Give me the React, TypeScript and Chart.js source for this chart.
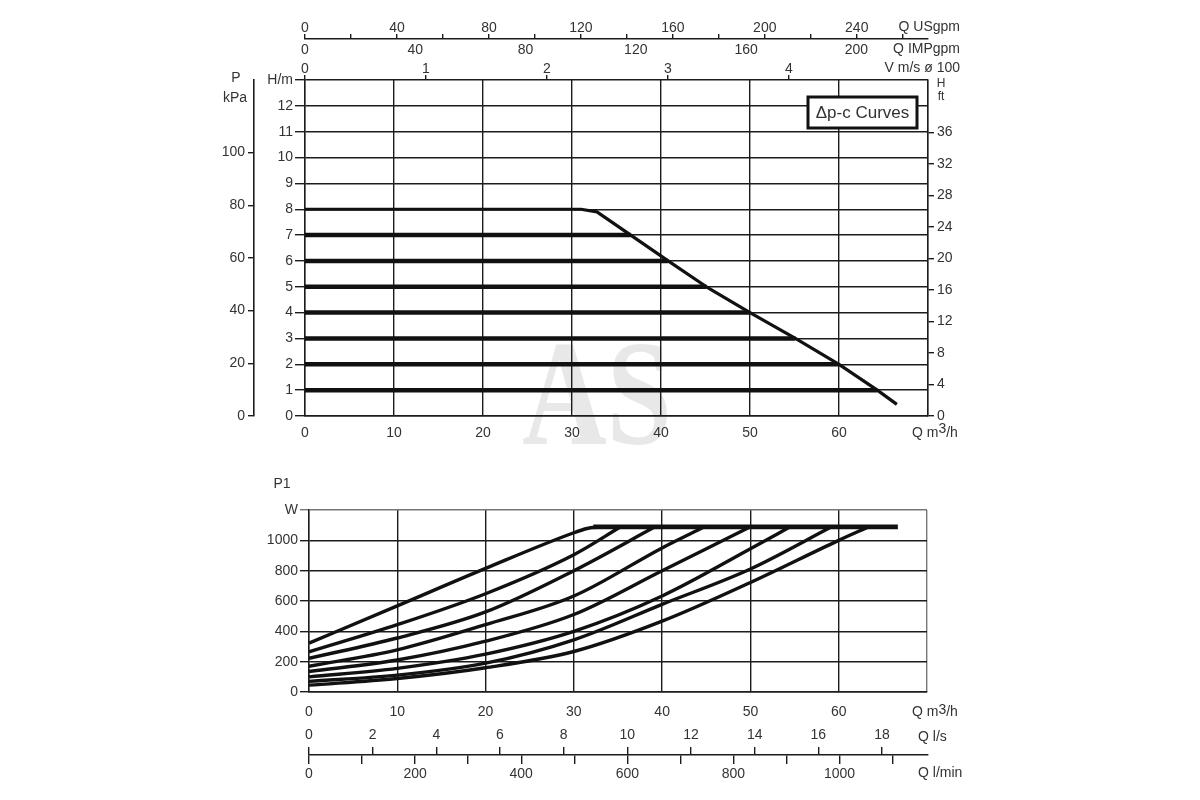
import React, { useEffect, useRef } from 'react';
import { Chart, registerables } from 'chart.js';

Chart.register(...registerables);

const FONT = '"Liberation Sans", Arial, Helvetica, sans-serif';
const INK = '#111111';
const GRID = '#1c1c1c';
const FRAME = '#777777';
const TEXT = '#333333';
const TICK_FONT = { family: FONT, size: 14 };

// Δp-c head curves (top chart): Q in m³/h, H in m
const headLevels = [1, 2, 3, 4, 5, 6, 7];
const headLineEnds = [64.3, 60.0, 55.1, 50.0, 45.1, 40.8, 36.6];
const limitQ = [0, 31, 32.8, 36.6, 40.8, 45.1, 50.0, 55.1, 60.0, 64.3, 66.5];
const limitH = [8, 8, 7.9, 7, 6, 5, 4, 3, 2, 1, 0.45];

// input power P1 (bottom chart), one curve per head setting, 1 m up to 8 m
const powerQ = [
  [0, 10, 20, 30, 40, 50, 60, 63.4],
  [0, 10, 20, 30, 40, 50, 59.2],
  [0, 10, 20, 30, 40, 50, 54.5],
  [0, 10, 20, 30, 40, 50],
  [0, 10, 20, 30, 40, 44.8],
  [0, 10, 20, 30, 39.2],
  [0, 10, 20, 30, 35.3],
  [0, 10, 20, 30, 31.5, 33],
];
const powerW = [
  [45, 89, 160, 267, 467, 722, 1000, 1089],
  [70, 111, 190, 344, 578, 811, 1089],
  [100, 156, 250, 400, 633, 944, 1089],
  [135, 211, 335, 511, 800, 1089],
  [170, 278, 444, 633, 950, 1089],
  [222, 356, 528, 800, 1089],
  [265, 444, 648, 905, 1089],
  [322, 568, 815, 1050, 1078, 1089],
];
const maxPowerQ = [32.2, 66.7];
const maxPowerW = [1089, 1089];

// axis ranges
const qMax = 70;
const hMax = 13;
const kpaMax = hMax * 9.81;
const ftMax = hMax * 3.281;
const usgpmMax = 271;
const impgpmMax = 226;
const velocityMax = 5.15;
const lsMax = qMax / 3.6;
const lminMax = qMax / 0.06;
const powerMax = 1200;

const toPoints = (xs: number[], ys: number[]) => xs.map((x, i) => ({ x, y: ys[i] }));

const line = (data: { x: number; y: number }[], width: number, smooth = false) => ({
  data,
  showLine: true,
  borderColor: INK,
  borderWidth: width,
  pointRadius: 0,
  borderCapStyle: 'butt',
  borderJoinStyle: 'round',
  cubicInterpolationMode: smooth ? 'monotone' : 'default',
});

const ticks = (extra: any) => ({ color: TEXT, font: TICK_FONT, maxTicksLimit: 100, includeBounds: false, ...extra });

const drawFlowUnit = (ctx: CanvasRenderingContext2D, x: number, y: number, lift: number) => {
  ctx.font = `14px ${FONT}`;
  ctx.textAlign = 'left';
  ctx.fillText('Q m', x, y);
  let w = ctx.measureText('Q m').width;
  ctx.fillText('3', x + w, y - lift);
  w += ctx.measureText('3').width;
  ctx.fillText('/h', x + w, y);
};

const headText = {
  id: 'headText',
  beforeDraw(chart: any) {
    const ctx = chart.ctx;
    ctx.save();
    ctx.fillStyle = '#e8e8e8';
    ctx.font = `bold 150px "Liberation Serif", "DejaVu Serif", serif`;
    ctx.textAlign = 'center';
    ctx.textBaseline = 'alphabetic';
    ctx.translate(397, 444);
    ctx.scale(0.78, 1);
    ctx.fillText('AS', 0, 0);
    ctx.restore();
  },
  afterDraw(chart: any) {
    const ctx = chart.ctx;
    ctx.save();
    ctx.fillStyle = TEXT;
    ctx.textBaseline = 'middle';
    ctx.font = `14px ${FONT}`;
    ctx.textAlign = 'right';
    ctx.fillText('Q USgpm', 760, 27);
    ctx.fillText('Q IMPgpm', 760, 49);
    ctx.fillText('V m/s ø 100', 760, 68);
    ctx.textAlign = 'center';
    ctx.fillText('P', 36, 78);
    ctx.fillText('kPa', 35, 98);
    ctx.font = `12px ${FONT}`;
    ctx.fillText('H', 741, 84);
    ctx.fillText('ft', 741, 97);
    drawFlowUnit(ctx, 712, 433, 4);

    ctx.fillStyle = '#ffffff';
    ctx.fillRect(608, 97, 109, 31);
    ctx.strokeStyle = INK;
    ctx.lineWidth = 3;
    ctx.strokeRect(608, 97, 109, 31);
    ctx.fillStyle = TEXT;
    ctx.font = `17px ${FONT}`;
    ctx.textAlign = 'center';
    ctx.fillText('Δp-c Curves', 662.5, 113);
    ctx.restore();
  },
};

const powerText = {
  id: 'powerText',
  afterDraw(chart: any) {
    const ctx = chart.ctx;
    ctx.save();
    ctx.fillStyle = TEXT;
    ctx.textBaseline = 'middle';
    ctx.font = `14px ${FONT}`;
    ctx.textAlign = 'center';
    ctx.fillText('P1', 82, 14);
    drawFlowUnit(ctx, 712, 242, 2);
    ctx.restore();
  },
};

const flowText = {
  id: 'flowText',
  afterDraw(chart: any) {
    const ctx = chart.ctx;
    ctx.save();
    ctx.fillStyle = TEXT;
    ctx.textBaseline = 'middle';
    ctx.font = `14px ${FONT}`;
    ctx.textAlign = 'left';
    ctx.fillText('Q l/s', 718, 37);
    ctx.fillText('Q l/min', 718, 73);
    ctx.restore();
  },
};

const App: React.FC = () => {
  const headRef = useRef<HTMLCanvasElement>(null);
  const powerRef = useRef<HTMLCanvasElement>(null);
  const flowRef = useRef<HTMLCanvasElement>(null);

  useEffect(() => {
    const charts: Chart[] = [];
    const common = {
      animation: false,
      responsive: false,
      events: [],
      plugins: { legend: { display: false }, tooltip: { enabled: false } },
    };

    if (headRef.current) {
      const datasets: any[] = headLevels.map((h, i) =>
        line([{ x: 0, y: h }, { x: headLineEnds[i], y: h }], 4.5)
      );
      datasets.push(line(toPoints(limitQ, limitH), 3.2));

      charts.push(
        new Chart(headRef.current, {
          type: 'scatter',
          data: { datasets },
          options: {
            ...common,
            layout: { padding: 0 },
            scales: {
              x: {
                type: 'linear', position: 'bottom', min: 0, max: qMax,
                ticks: ticks({ stepSize: 10, padding: 9, callback: (v: number) => (v >= qMax ? '' : v) }),
                grid: { color: GRID, lineWidth: 1.4, drawTicks: false },
                border: { color: GRID, width: 1.4 },
                afterFit: (s: any) => { s.height = 29; },
              },
              xV: {
                type: 'linear', position: 'top', weight: 0, min: 0, max: velocityMax,
                ticks: ticks({ stepSize: 1, padding: -3, callback: (v: number) => (v >= 5 ? null : v) }),
                grid: { drawOnChartArea: false, tickLength: 5, color: GRID, lineWidth: 1.4 },
                border: { display: false },
                afterFit: (s: any) => { s.height = 22; },
              },
              xImp: {
                type: 'linear', position: 'top', weight: 1, min: 0, max: impgpmMax,
                ticks: ticks({ stepSize: 40, padding: -1 }),
                grid: { display: false, drawTicks: false },
                border: { display: false },
                afterFit: (s: any) => { s.height = 19; },
              },
              xUs: {
                type: 'linear', position: 'top', weight: 2, min: 0, max: usgpmMax,
                ticks: ticks({ stepSize: 20, padding: -3, callback: (v: number) => (v % 40 === 0 ? v : '') }),
                grid: { drawOnChartArea: false, tickLength: 5, color: GRID, lineWidth: 1.4 },
                border: { color: GRID, width: 1.6 },
                afterFit: (s: any) => { s.height = 39; },
              },
              y: {
                type: 'linear', position: 'left', weight: 0, min: 0, max: hMax,
                ticks: ticks({ stepSize: 1, padding: 2, callback: (v: number) => (v >= hMax ? 'H/m' : v) }),
                grid: { color: GRID, lineWidth: 1.4, tickLength: 10 },
                border: { color: GRID, width: 1.4 },
                afterFit: (s: any) => { s.width = 51; },
              },
              yKpa: {
                type: 'linear', position: 'left', weight: 1, min: 0, max: kpaMax,
                ticks: ticks({ stepSize: 20, padding: 3, callback: (v: number) => (v > 100 ? null : v) }),
                grid: { drawOnChartArea: false, tickLength: 6, color: GRID, lineWidth: 1.4 },
                border: { color: GRID, width: 1.6 },
                afterFit: (s: any) => { s.width = 54; },
              },
              yFt: {
                type: 'linear', position: 'right', min: 0, max: ftMax,
                ticks: ticks({ stepSize: 4, padding: 3, callback: (v: number) => (v > 36 ? null : v) }),
                grid: { drawOnChartArea: false, tickLength: 6, color: GRID, lineWidth: 1.4 },
                border: { color: GRID, width: 1.4 },
                afterFit: (s: any) => { s.width = 72; },
              },
            },
          } as any,
          plugins: [headText],
        })
      );
    }

    if (powerRef.current) {
      const datasets: any[] = powerQ.map((qs, i) => line(toPoints(qs, powerW[i]), 3.4, true));
      datasets.push(line(toPoints(maxPowerQ, maxPowerW), 4.6));

      charts.push(
        new Chart(powerRef.current, {
          type: 'scatter',
          data: { datasets },
          options: {
            ...common,
            layout: { padding: { top: 40, right: 73 } },
            scales: {
              x: {
                type: 'linear', position: 'bottom', min: 0, max: qMax,
                ticks: ticks({ stepSize: 10, padding: 12, callback: (v: number) => (v >= qMax ? '' : v) }),
                grid: {
                  color: (c: any) => (c.tick && c.tick.value >= qMax ? FRAME : GRID),
                  lineWidth: 1.4,
                  drawTicks: false,
                },
                border: { color: GRID, width: 1.4 },
                afterFit: (s: any) => { s.height = 38; },
              },
              y: {
                type: 'linear', position: 'left', min: 0, max: powerMax,
                ticks: ticks({ stepSize: 200, padding: 2, callback: (v: number) => (v >= powerMax ? 'W' : v) }),
                grid: {
                  color: (c: any) => (c.tick && c.tick.value >= powerMax ? FRAME : GRID),
                  lineWidth: 1.4,
                  tickLength: 9,
                },
                border: { color: GRID, width: 1.4 },
                afterFit: (s: any) => { s.width = 109; },
              },
            },
          } as any,
          plugins: [powerText],
        })
      );
    }

    if (flowRef.current) {
      charts.push(
        new Chart(flowRef.current, {
          type: 'scatter',
          data: { datasets: [] },
          options: {
            ...common,
            layout: { padding: { left: 109, right: 72 } },
            scales: {
              xLs: {
                type: 'linear', position: 'top', min: 0, max: lsMax,
                ticks: ticks({ stepSize: 2, padding: 3 }),
                grid: { drawOnChartArea: false, tickLength: 7, color: GRID, lineWidth: 1.4 },
                border: { display: false },
                afterFit: (s: any) => { s.height = 54; },
              },
              x: {
                type: 'linear', position: 'bottom', min: 0, max: lminMax,
                ticks: ticks({ stepSize: 100, padding: 2, callback: (v: number) => (v % 200 === 0 ? v : '') }),
                grid: { drawOnChartArea: false, tickLength: 9, color: GRID, lineWidth: 1.4 },
                border: { color: GRID, width: 1.6 },
                afterFit: (s: any) => { s.height = 35; },
              },
              y: { type: 'linear', display: false, min: 0, max: 1 },
            },
          } as any,
          plugins: [flowText],
        })
      );
    }

    return () => {
      charts.forEach((c) => c.destroy());
    };
  }, []);

  return (
    <div style={{ position: 'absolute', left: 0, top: 0, width: 1200, height: 800, background: '#ffffff' }}>
      <canvas ref={headRef} width={800} height={445} style={{ position: 'absolute', left: 200, top: 0 }} />
      <canvas ref={powerRef} width={800} height={260} style={{ position: 'absolute', left: 200, top: 470 }} />
      <canvas ref={flowRef} width={800} height={90} style={{ position: 'absolute', left: 200, top: 700 }} />
    </div>
  );
};

export default App;
